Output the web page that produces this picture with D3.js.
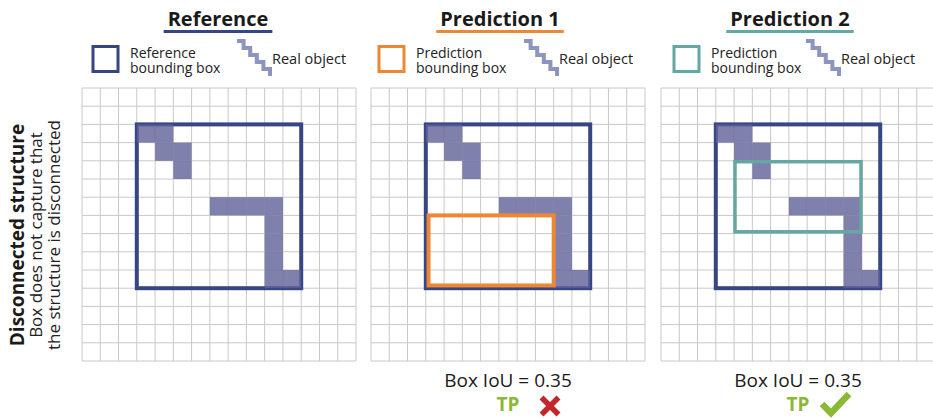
<!DOCTYPE html>
<html>
<head>
<meta charset="utf-8">
<script src="https://cdn.jsdelivr.net/npm/d3@7"></script>
<style>
  body { margin: 0; background: white; }
  text, .legend-label { font-family: "Open Sans", "Noto Sans", sans-serif; }
  .legend-label { font-size: 14px; line-height: 15px; color: #222; white-space: nowrap; }
</style>
</head>
<body>
<svg id="chart"></svg>
<script>
const width = 933;
const height = 419;

// Panel content.
const panelTitles = ["Reference", "Prediction 1", "Prediction 2"];
const legendLines = [["Reference", "bounding box"], ["Prediction", "bounding box"], ["Prediction", "bounding box"]];
const objectLabel = "Real object";
const gridSize = 15;

// Cells of the real object, in grid units.
const objectCols = [3, 4, 4, 5, 5, 7, 8, 9, 10, 10, 10, 10, 10, 11];
const objectRows = [2, 2, 3, 3, 4, 6, 6, 6, 6, 7, 8, 9, 10, 10];

// Boxes in grid units: [x0, y0, x1, y1].
const referenceBox = [3, 2, 12, 11];
const predictionBoxes = [null, [3.15, 7, 10, 10.85], [4.05, 4.05, 10.95, 7.9]];

const iouLabels = [null, "Box IoU = 0.35", "Box IoU = 0.35"];
const tpLabels = [null, "TP", "TP"];
const verdicts = [null, "wrong", "right"];

const sideTitle = "Disconnected structure";
const sideLines = ["Box does not capture that", "the structure is disconnected"];

// Layout and colours.
const gridLeft = [82, 371, 661];
const gridTop = 88;
const gridW = 274;
const gridH = 273;
const titleShift = [-1, -8, -8];
const legendLeft = [93, 379, 674];
const iconLeft = [236, 523, 805];
const colors = ["#364682", "#ee8733", "#65a7a2"];
const objectColor = "#5f6097";
const iconColor = "#8c95bf";
const green = "#8ab935";

const svg = d3.select("#chart")
  .attr("width", width)
  .attr("height", height);

svg.append("rect").attr("width", width).attr("height", height).attr("fill", "white");

function drawPanel(p) {
  const xScale = d3.scaleLinear().domain([0, gridSize]).range([gridLeft[p], gridLeft[p] + gridW]);
  const yScale = d3.scaleLinear().domain([0, gridSize]).range([gridTop, gridTop + gridH]);
  const g = svg.append("g");
  const cx = (xScale(0) + xScale(gridSize)) / 2;

  // Grid.
  const ticks = d3.range(gridSize + 1);
  g.selectAll("line.v").data(ticks).join("line")
    .attr("x1", d => xScale(d)).attr("x2", d => xScale(d))
    .attr("y1", yScale(0)).attr("y2", yScale(gridSize))
    .attr("stroke", "#c8c8c8").attr("stroke-width", 1);
  g.selectAll("line.h").data(ticks).join("line")
    .attr("y1", d => yScale(d)).attr("y2", d => yScale(d))
    .attr("x1", xScale(0)).attr("x2", xScale(gridSize))
    .attr("stroke", "#c8c8c8").attr("stroke-width", 1);

  // Boxes.
  function box(b, color, w) {
    g.append("rect")
      .attr("x", xScale(b[0])).attr("y", yScale(b[1]))
      .attr("width", xScale(b[2]) - xScale(b[0]))
      .attr("height", yScale(b[3]) - yScale(b[1]))
      .attr("fill", "none").attr("stroke", color).attr("stroke-width", w);
  }
  box(referenceBox, colors[0], 4);

  // Object cells.
  g.selectAll("rect.cell").data(objectCols.map((c, i) => [c, objectRows[i]])).join("rect")
    .attr("x", d => xScale(d[0])).attr("y", d => yScale(d[1]))
    .attr("width", xScale(1) - xScale(0)).attr("height", yScale(1) - yScale(0))
    .attr("fill", objectColor).attr("opacity", 0.8);

  if (predictionBoxes[p]) box(predictionBoxes[p], colors[p], p == 1 ? 4 : 3.5);

  // Title.
  const tx = cx + titleShift[p];
  const title = g.append("text")
    .attr("x", tx).attr("y", 26)
    .attr("text-anchor", "middle")
    .attr("font-size", 20).attr("font-weight", "bold")
    .attr("fill", "#1a1a1a")
    .text(panelTitles[p]);
  const tw = title.node().getComputedTextLength();
  g.append("line")
    .attr("x1", tx - tw / 2 - 4).attr("x2", tx + tw / 2 + 4)
    .attr("y1", 31.5).attr("y2", 31.5)
    .attr("stroke", colors[p]).attr("stroke-width", 3);

  // Legend.
  g.append("rect")
    .attr("x", legendLeft[p]).attr("y", 46.5)
    .attr("width", 25).attr("height", 25)
    .attr("fill", "none").attr("stroke", colors[p]).attr("stroke-width", 3);
  g.append("foreignObject")
    .attr("x", legendLeft[p] + 37).attr("y", 45)
    .attr("width", 110).attr("height", 32)
    .append("xhtml:div")
    .attr("class", "legend-label")
    .html(legendLines[p].join("<br>"));

  // Stair icon.
  const steps = 5;
  const pts = [[0, 0]];
  for (let i = 0; i < steps; i++) {
    const last = pts[pts.length - 1];
    pts.push([last[0] + 6.6, last[1]]);
    pts.push([last[0] + 6.6, last[1] + 7]);
  }
  g.append("path")
    .attr("d", d3.line()(pts.map(q => [iconLeft[p] + q[0] + 1, 41 + q[1]])))
    .attr("fill", "none").attr("stroke", iconColor).attr("stroke-width", 4);
  g.append("text")
    .attr("x", iconLeft[p] + 36).attr("y", 64)
    .attr("font-size", 14.5).attr("fill", "#222")
    .text(objectLabel);

  // IoU result.
  if (iouLabels[p]) {
    g.append("text")
      .attr("x", cx).attr("y", 387)
      .attr("text-anchor", "middle")
      .attr("font-size", 19).attr("fill", "#1a1a1a")
      .text(iouLabels[p]);
    g.append("text")
      .attr("x", cx).attr("y", 411)
      .attr("text-anchor", "middle")
      .attr("font-size", 19).attr("font-weight", "bold")
      .attr("fill", green)
      .text(tpLabels[p]);
    if (verdicts[p] == "wrong") {
      const mx = cx + 42, my = 406, r = 8.5;
      g.append("path")
        .attr("d", `M${mx - r},${my - r}L${mx + r},${my + r}M${mx + r},${my - r}L${mx - r},${my + r}`)
        .attr("stroke", "#c1272d").attr("stroke-width", 5.5);
    } else {
      const mx = cx + 22;
      g.append("path")
        .attr("d", d3.line()([[mx + 2, 404], [mx + 11, 413], [mx + 29, 394]]))
        .attr("fill", "none")
        .attr("stroke", green).attr("stroke-width", 6.5);
    }
  }
}

d3.range(panelTitles.length).forEach(drawPanel);

// Side labels.
const side = svg.append("g").attr("transform", "translate(0,235) rotate(-90)");
side.append("text")
  .attr("x", 0).attr("y", 24)
  .attr("text-anchor", "middle")
  .attr("font-size", 19).attr("font-weight", "bold")
  .attr("fill", "#1a1a1a")
  .text(sideTitle);
side.append("text")
  .attr("text-anchor", "middle")
  .attr("font-size", 17).attr("fill", "#222")
  .selectAll("tspan").data(sideLines).join("tspan")
  .attr("x", 0).attr("y", (d, i) => 42 + i * 18)
  .text(d => d);
</script>
</body>
</html>
